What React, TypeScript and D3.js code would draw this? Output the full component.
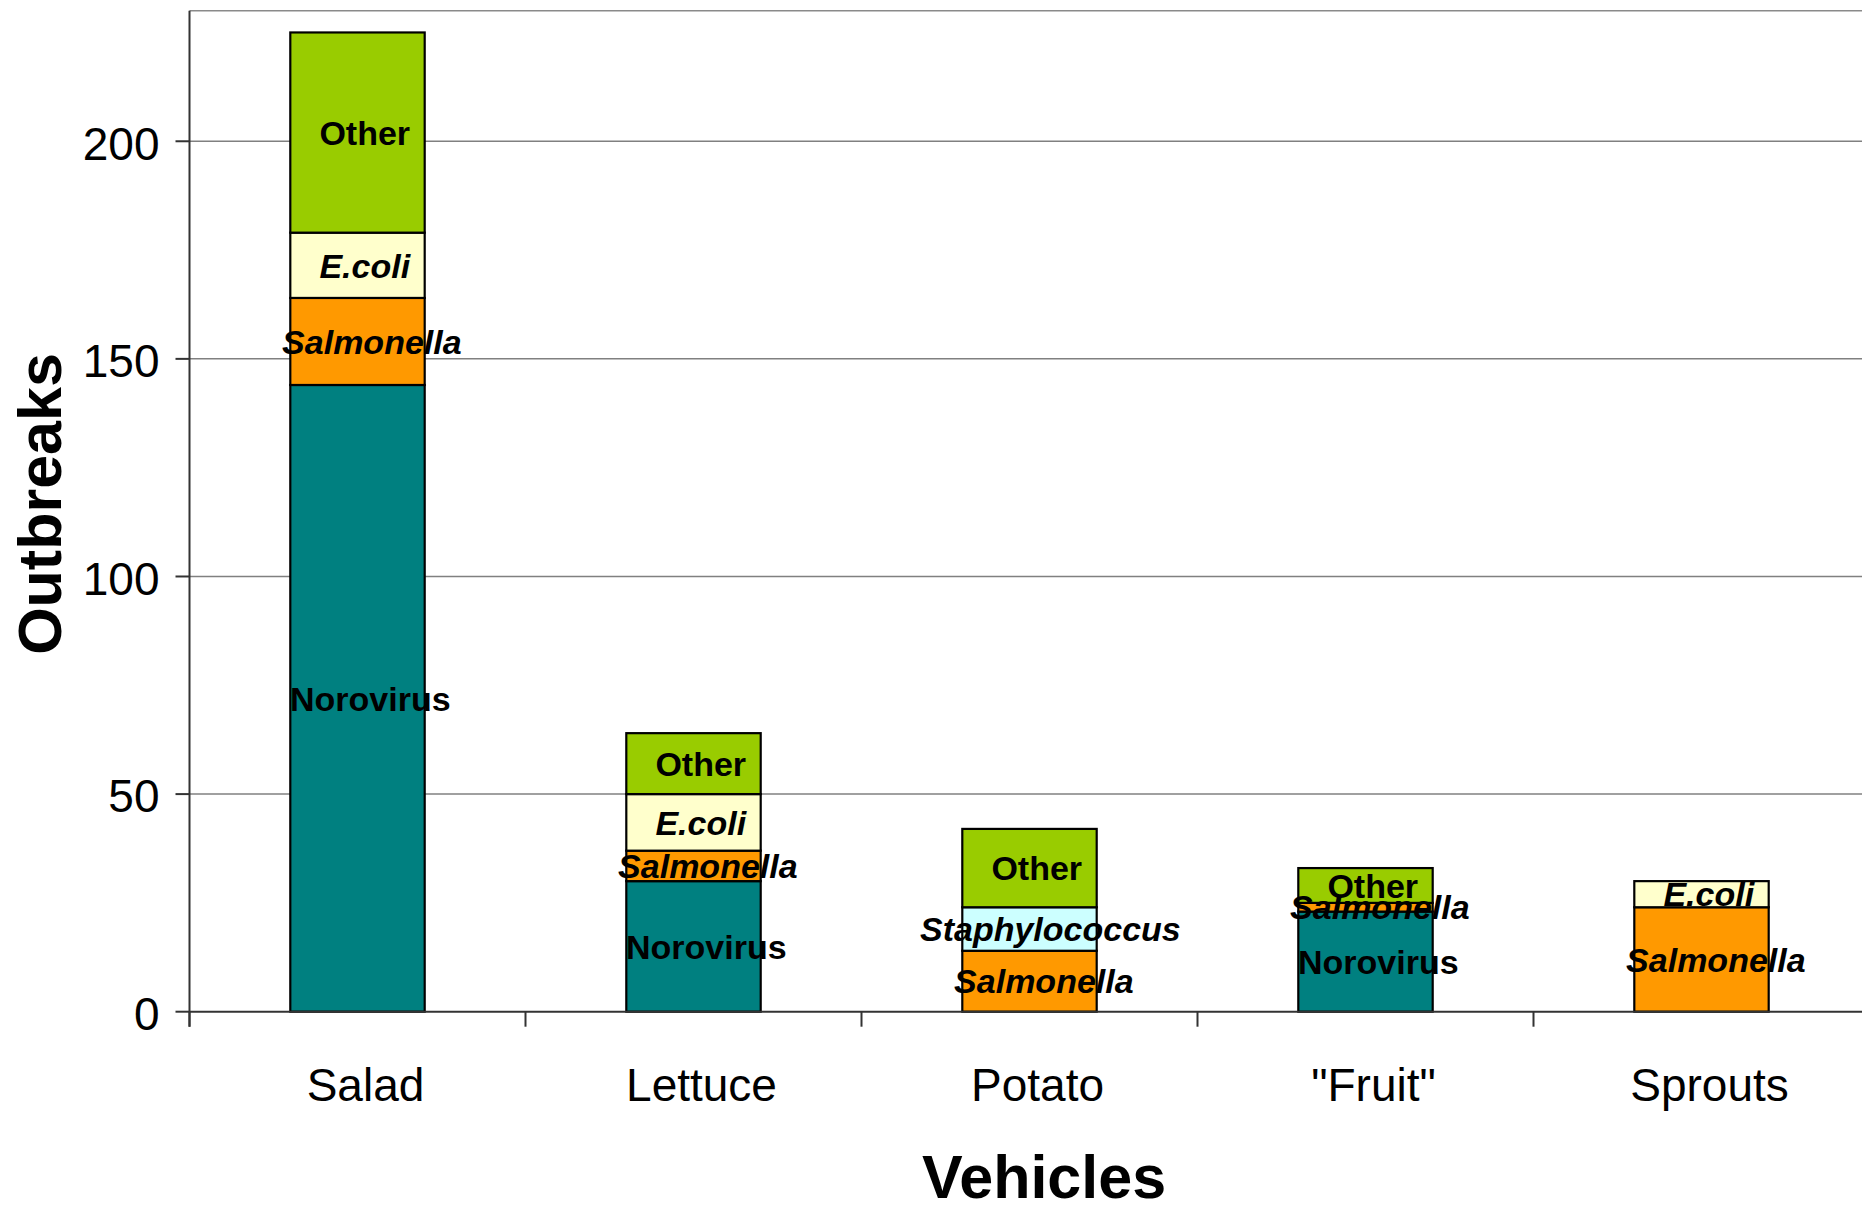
import React, { useMemo } from "react";
import * as d3 from "d3";

// Foodborne outbreaks by produce vehicle, split by agent
const categories = ["Salad", "Lettuce", "Potato", "\"Fruit\"", "Sprouts"];
const norovirus = [144, 30, 0, 23, 0];
const salmonella = [20, 7, 14, 2, 24];
const staphylococcus = [0, 0, 10, 0, 0];
const ecoli = [15, 13, 0, 0, 6];
const other = [46, 14, 18, 8, 0];

const yTicks = [0, 50, 100, 150, 200];

const seriesKeys = ["Norovirus", "Salmonella", "Staphylococcus", "E.coli", "Other"];
const seriesValues: Record<string, number[]> = {
  Norovirus: norovirus,
  Salmonella: salmonella,
  Staphylococcus: staphylococcus,
  "E.coli": ecoli,
  Other: other,
};
const seriesColor: Record<string, string> = {
  Norovirus: "#008080",
  Salmonella: "#FF9900",
  Staphylococcus: "#CCFFFF",
  "E.coli": "#FFFFCC",
  Other: "#99CC00",
};
const italicSeries = new Set(["Salmonella", "Staphylococcus", "E.coli"]);

const W = 1862;
const H = 1205;
const FONT = "'Liberation Sans', Arial, Helvetica, sans-serif";
const LABEL_SIZE = 34;

let measureCtx: CanvasRenderingContext2D | null = null;
function textWidth(text: string, italic: boolean): number {
  if (!measureCtx) {
    const c = document.createElement("canvas");
    measureCtx = c.getContext("2d");
  }
  if (!measureCtx) return text.length * LABEL_SIZE * 0.55;
  measureCtx.font = `${italic ? "italic " : ""}bold ${LABEL_SIZE}px ${FONT}`;
  return measureCtx.measureText(text).width;
}

export default function App() {
  const left = 189.5;
  const right = 1869.5;
  const top = 10.7;
  const bottom = 1011.7;

  const x = d3
    .scaleBand<string>()
    .domain(categories)
    .range([left, right])
    .paddingInner(0.6)
    .paddingOuter(0.3);

  const y = d3.scaleLinear().domain([0, 230]).range([bottom, top]);

  const rows = categories.map((c, i) => {
    const r: Record<string, any> = { category: c };
    seriesKeys.forEach((k) => (r[k] = seriesValues[k][i]));
    return r;
  });

  const stacked = useMemo(() => d3.stack<any>().keys(seriesKeys)(rows), []);

  const step = x.step();
  const catTicks = categories.map((c) => (x(c) as number) - step * 0.3);
  catTicks.push(catTicks[catTicks.length - 1] + step);

  return (
    <svg
      width={W}
      height={H}
      style={{ position: "absolute", left: 0, top: 0, background: "#fff" }}
      fontFamily={FONT}
    >
      {/* gridlines */}
      {yTicks
        .filter((t) => t > 0)
        .map((t) => (
          <line key={t} x1={left} x2={right} y1={y(t)} y2={y(t)} stroke="#808080" strokeWidth={1.5} />
        ))}
      {/* plot area top border */}
      <line x1={left} x2={right} y1={top} y2={top} stroke="#8a8a8a" strokeWidth={1.6} />

      {/* stacked bars */}
      {stacked.map((layer) =>
        layer.map((d, i) => {
          if (d[1] - d[0] <= 0) return null;
          return (
            <rect
              key={layer.key + i}
              x={x(categories[i])}
              width={x.bandwidth()}
              y={y(d[1])}
              height={y(d[0]) - y(d[1])}
              fill={seriesColor[layer.key]}
              stroke="#000"
              strokeWidth={2.2}
            />
          );
        })
      )}

      {/* axes */}
      <line x1={left} x2={right} y1={bottom} y2={bottom} stroke="#333" strokeWidth={2} />
      <line x1={left} x2={left} y1={top} y2={bottom + 15} stroke="#333" strokeWidth={2} />
      {yTicks.map((t) => (
        <g key={t}>
          <line x1={left - 14} x2={left} y1={y(t)} y2={y(t)} stroke="#333" strokeWidth={2} />
          <text x={159.5} y={y(t)} dy="0.4em" textAnchor="end" fontSize={46} fill="#000">
            {t}
          </text>
        </g>
      ))}
      {catTicks.map((t, i) => (
        <line key={i} x1={t} x2={t} y1={bottom} y2={bottom + 15} stroke="#333" strokeWidth={2} />
      ))}
      {categories.map((c) => (
        <text
          key={c}
          x={(x(c) as number) + x.bandwidth() / 2 + 8}
          y={1100.7}
          textAnchor="middle"
          fontSize={46}
          fill="#000"
        >
          {c}
        </text>
      ))}

      {/* segment labels */}
      {stacked.map((layer) =>
        layer.map((d, i) => {
          if (d[1] - d[0] <= 0) return null;
          const italic = italicSeries.has(layer.key);
          const w = textWidth(layer.key, italic);
          const cx = (x(categories[i]) as number) + x.bandwidth() / 2 + w * 0.08;
          return (
            <text
              key={"l" + layer.key + i}
              x={cx}
              y={y((d[0] + d[1]) / 2)}
              dy="0.36em"
              textAnchor="middle"
              fontSize={LABEL_SIZE}
              fontWeight="bold"
              fontStyle={italic ? "italic" : "normal"}
              fill="#000"
            >
              {layer.key}
            </text>
          );
        })
      )}

      {/* axis titles */}
      <text
        transform={`translate(61,504) rotate(-90)`}
        textAnchor="middle"
        fontSize={61}
        fontWeight="bold"
        fill="#000"
      >
        Outbreaks
      </text>
      <text x={1044} y={1198} textAnchor="middle" fontSize={61} fontWeight="bold" fill="#000">
        Vehicles
      </text>
    </svg>
  );
}
